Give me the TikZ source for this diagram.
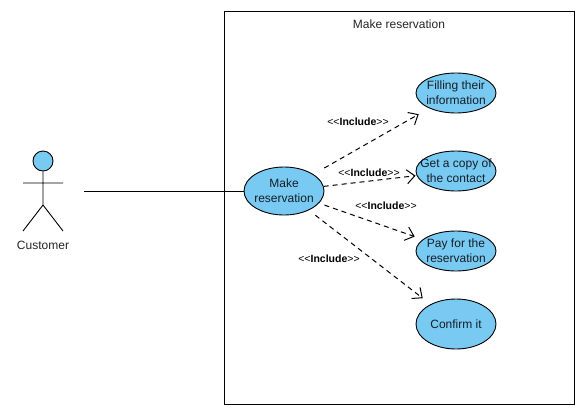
\documentclass[tikz,border=0pt]{standalone}
\usepackage{fontspec}
\setmainfont{Liberation Sans}
\usetikzlibrary{arrows.meta,shapes.geometric}
\definecolor{ucfill}{RGB}{120,202,242}
\definecolor{uctext}{RGB}{20,30,40}
\tikzset{
  usecase/.style={ellipse,draw=black,fill=ucfill,line width=0.9pt,minimum width=#1,inner xsep=-14pt,inner ysep=-7pt,align=center,font=\fontsize{12}{15}\selectfont,text=uctext},
  inc/.style={draw=black,line width=1pt,dash pattern=on 5pt off 4pt,-{Straight Barb[length=8pt,width=14pt,line width=1pt]}},
  inclabel/.style={font=\fontsize{10.5}{12}\selectfont,inner sep=0pt,text=black},
  stick/.style={draw=black,line width=0.9pt},
  plain/.style={font=\fontsize{12}{14}\selectfont,inner sep=0pt,text=black!85}
}
\newcommand{\inctext}{<{}<\textbf{Include}>{}>}
\begin{document}
\begin{tikzpicture}[x=1pt,y=-1pt]
\useasboundingbox (0,0) rectangle (588,415);
\fill[white] (0,0) rectangle (588,415);
\node[draw=black,line width=0.9pt,minimum width=350pt,minimum height=393pt,inner sep=0pt,anchor=north west] (system) at (224,10.7) {};
\node[plain] (title) at (399,24) {Make reservation};

\node[usecase=80pt,minimum height=48pt] (make) at (284,191) {Make\\reservation};
\node[usecase=80pt,minimum height=40pt] (fill) at (456,93) {Filling their\\information};
\node[usecase=80pt,minimum height=40pt] (copy) at (456,171) {Get a copy of\\the contact};
\node[usecase=80pt,minimum height=40pt] (pay) at (456,251) {Pay for the\\reservation};
\node[usecase=80pt,minimum height=50pt] (confirm) at (456,324) {Confirm it};

\node[circle,draw=black,fill=ucfill,line width=0.9pt,minimum size=20pt,inner sep=0pt] (head) at (43,161) {};
\coordinate (hip) at (43,205);
\coordinate (arml) at (23,183);
\coordinate (armr) at (63,183);
\coordinate (legl) at (23,231);
\coordinate (legr) at (63,231);
\draw[stick] (head) -- (hip) (arml) -- (armr) (legl) -- (hip) -- (legr);
\node[plain] (customer) at (43,245) {Customer};

\coordinate (assoc) at (84,191);
\draw[stick] (assoc) -- (make);

\draw[inc,shorten <=12.5pt,shorten >=12pt] (make) -- (fill);
\draw[inc,shorten <=0pt,shorten >=1pt] (make) -- (copy);
\draw[inc,shorten <=5.7pt,shorten >=8.5pt] (make) -- (pay);
\draw[inc,shorten <=8.2pt,shorten >=9.8pt] (make) -- (confirm);

\node[inclabel] (l1) at (358,121.7) {\inctext};
\node[inclabel] (l2) at (369,172.7) {\inctext};
\node[inclabel] (l3) at (386,205.7) {\inctext};
\node[inclabel] (l4) at (329,258.7) {\inctext};
\end{tikzpicture}
\end{document}
